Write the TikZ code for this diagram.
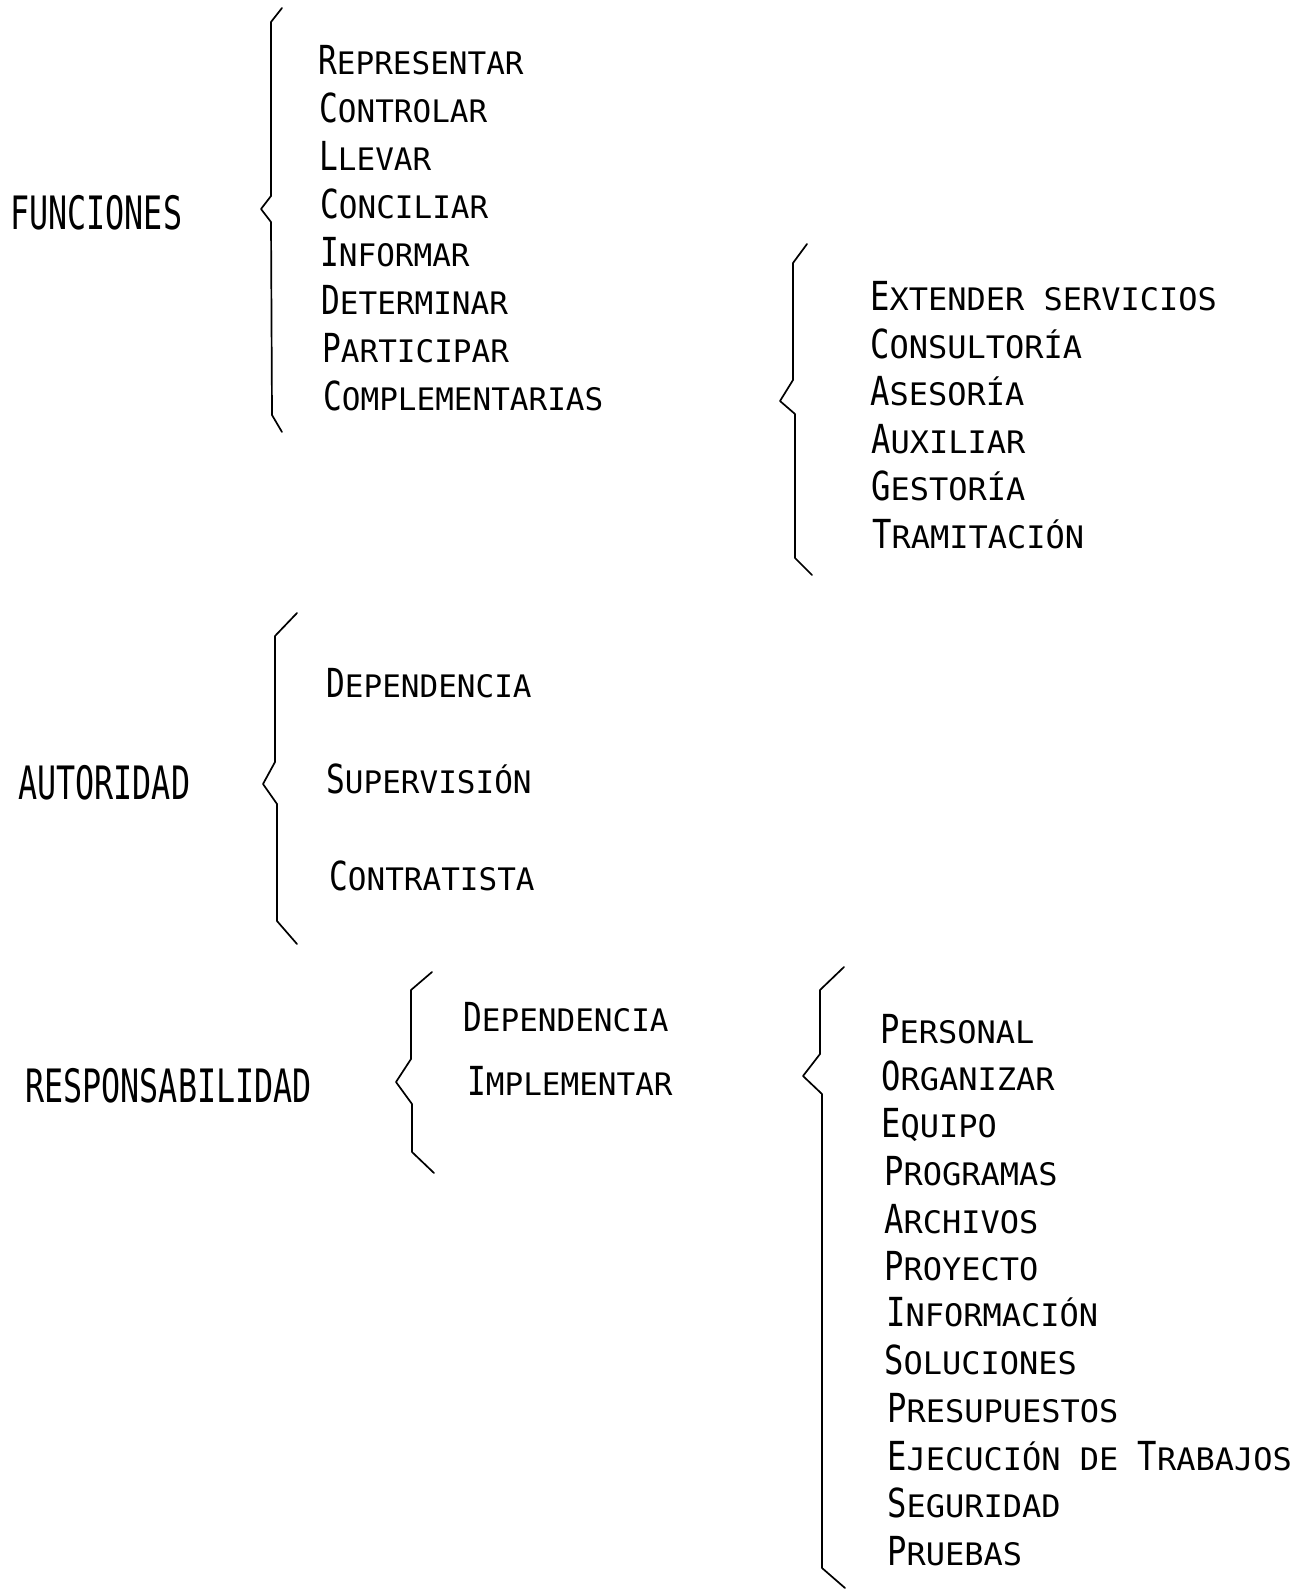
\documentclass[tikz,border=0pt]{standalone}
\usepackage{fontspec}
\newfontfamily\labfont[FakeStretch=0.69]{DejaVu Sans Mono}
\newfontfamily\capfont[FakeStretch=0.78]{DejaVu Sans Mono}
\newfontfamily\smfont[FakeStretch=1.0]{DejaVu Sans Mono}
\newfontfamily\capfontw[FakeStretch=0.805]{DejaVu Sans Mono}
\newfontfamily\smfontw[FakeStretch=1.032]{DejaVu Sans Mono}
\newcommand\bigL[1]{{\capfont\fontsize{40}{40}\selectfont #1}}
\newcommand\smL[1]{{\smfont\fontsize{31}{31}\selectfont #1}}
\newcommand\sctext[2]{\bigL{#1}\smL{#2}}
\newcommand\bigW[1]{{\capfontw\fontsize{40}{40}\selectfont #1}}
\newcommand\smW[1]{{\smfontw\fontsize{31}{31}\selectfont #1}}
\newcommand\sctextw[2]{\bigW{#1}\smW{#2}}
\tikzset{
  lab/.style={anchor=base west, inner sep=0pt, font=\labfont\fontsize{46}{46}\selectfont},
  item/.style={anchor=base west, inner sep=0pt},
  bracepath/.style={line width=1.7pt, line join=round, line cap=round}
}
\begin{document}
\begin{tikzpicture}[x=1pt,y=-1pt]
\useasboundingbox[fill=white] (0,0) rectangle (1310,1596);

% ---------- FUNCIONES ----------
\node[lab] (funciones) at (10,229) {FUNCIONES};
\draw[bracepath] (282,8) -- (271,22) -- (271,196) -- (261,209) -- (271,222) -- (272,415) -- (282,432);
\node[item] (f1) at (318,74)  {\sctext{R}{EPRESENTAR}};
\node[item] (f2) at (319,122) {\sctext{C}{ONTROLAR}};
\node[item] (f3) at (319,170) {\sctext{L}{LEVAR}};
\node[item] (f4) at (320,218) {\sctext{C}{ONCILIAR}};
\node[item] (f5) at (320,266) {\sctext{I}{NFORMAR}};
\node[item] (f6) at (321,314) {\sctext{D}{ETERMINAR}};
\node[item] (f7) at (322,362) {\sctext{P}{ARTICIPAR}};
\node[item] (f8) at (323,410) {\sctext{C}{OMPLEMENTARIAS}};

% ---------- servicios ----------
\draw[bracepath] (807,244) -- (793,263) -- (793,380) -- (780,401) -- (795,414) -- (795,558) -- (812,575);
\node[item] (s1) at (870,310) {\sctextw{E}{XTENDER SERVICIOS}};
\node[item] (s2) at (870,358) {\sctextw{C}{ONSULTORÍA}};
\node[item] (s3) at (870,405) {\sctextw{A}{SESORÍA}};
\node[item] (s4) at (871,453) {\sctextw{A}{UXILIAR}};
\node[item] (s5) at (871,500) {\sctextw{G}{ESTORÍA}};
\node[item] (s6) at (872,548) {\sctextw{T}{RAMITACIÓN}};

% ---------- AUTORIDAD ----------
\node[lab] (autoridad) at (18,799) {AUTORIDAD};
\draw[bracepath] (297,613) -- (275,636) -- (275,762) -- (263,784) -- (277,804) -- (277,921) -- (297,944);
\node[item] (a1) at (326,697) {\sctext{D}{EPENDENCIA}};
\node[item] (a2) at (326,793) {\sctext{S}{UPERVISIÓN}};
\node[item] (a3) at (329,890) {\sctext{C}{ONTRATISTA}};

% ---------- RESPONSABILIDAD ----------
\node[lab] (resp) at (25,1102) {RESPONSABILIDAD};
\draw[bracepath] (432,972) -- (411,990) -- (411,1059) -- (396,1082) -- (412,1104) -- (412,1152) -- (434,1173);
\node[item] (r1) at (463,1031) {\sctext{D}{EPENDENCIA}};
\node[item] (r2) at (467,1095) {\sctext{I}{MPLEMENTAR}};

\draw[bracepath] (844,967) -- (820,990) -- (820,1054) -- (803,1076) -- (822,1094) -- (822,1568) -- (845,1588);
\node[item] (p1)  at (880,1043) {\sctextw{P}{ERSONAL}};
\node[item] (p2)  at (881,1090) {\sctextw{O}{RGANIZAR}};
\node[item] (p3)  at (881,1137) {\sctextw{E}{QUIPO}};
\node[item] (p4)  at (884,1185) {\sctextw{P}{ROGRAMAS}};
\node[item] (p5)  at (884,1233) {\sctextw{A}{RCHIVOS}};
\node[item] (p6)  at (884,1280) {\sctextw{P}{ROYECTO}};
\node[item] (p7)  at (886,1326) {\sctextw{I}{NFORMACIÓN}};
\node[item] (p8)  at (884,1374) {\sctextw{S}{OLUCIONES}};
\node[item] (p9)  at (887,1422) {\sctextw{P}{RESUPUESTOS}};
\node[item] (p10) at (887,1470) {\sctextw{E}{JECUCIÓN DE }\sctextw{T}{RABAJOS}};
\node[item] (p11) at (887,1517) {\sctextw{S}{EGURIDAD}};
\node[item] (p12) at (887,1565) {\sctextw{P}{RUEBAS}};
\end{tikzpicture}
\end{document}
